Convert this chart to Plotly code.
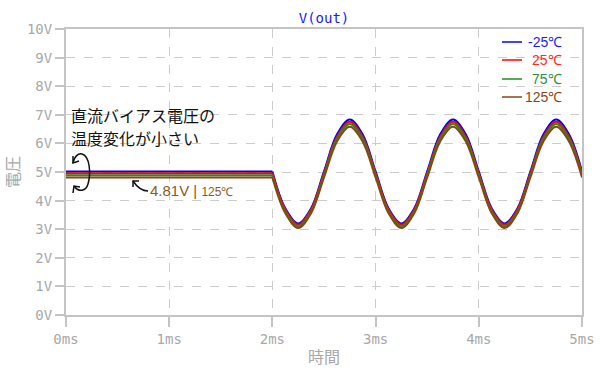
import plotly.graph_objects as go

# ---- data ----
temps = ["-25℃", "25℃", "75℃", "125℃"]
colors = ["#0000ff", "#ff0000", "#228b22", "#8b4513"]
text_colors = ["#1a1aff", "#ff2a1a", "#2e8b3e", "#8b4513"]

t_dc = [0.0, 2.0]  # ms
dc_m25 = [5.02, 5.02]
dc_25 = [4.96, 4.96]
dc_75 = [4.89, 4.89]
dc_125 = [4.81, 4.81]

t_ac = [2.0, 2.125, 2.25, 2.375, 2.5, 2.625, 2.75, 2.875,
        3.0, 3.125, 3.25, 3.375, 3.5, 3.625, 3.75, 3.875,
        4.0, 4.125, 4.25, 4.375, 4.5, 4.625, 4.75, 4.875, 5.0]
ac_m25 = [5.02, 3.73, 3.20, 3.73, 5.02, 6.31, 6.84, 6.31,
          5.02, 3.73, 3.20, 3.73, 5.02, 6.31, 6.84, 6.31,
          5.02, 3.73, 3.20, 3.73, 5.02, 6.31, 6.84, 6.31, 5.02]
ac_25 = [4.96, 3.69, 3.16, 3.69, 4.96, 6.23, 6.76, 6.23,
         4.96, 3.69, 3.16, 3.69, 4.96, 6.23, 6.76, 6.23,
         4.96, 3.69, 3.16, 3.69, 4.96, 6.23, 6.76, 6.23, 4.96]
ac_75 = [4.89, 3.62, 3.10, 3.62, 4.89, 6.16, 6.68, 6.16,
         4.89, 3.62, 3.10, 3.62, 4.89, 6.16, 6.68, 6.16,
         4.89, 3.62, 3.10, 3.62, 4.89, 6.16, 6.68, 6.16, 4.89]
ac_125 = [4.81, 3.56, 3.04, 3.56, 4.81, 6.06, 6.58, 6.06,
          4.81, 3.56, 3.04, 3.56, 4.81, 6.06, 6.58, 6.06,
          4.81, 3.56, 3.04, 3.56, 4.81, 6.06, 6.58, 6.06, 4.81]

dc_series = [dc_m25, dc_25, dc_75, dc_125]
ac_series = [ac_m25, ac_25, ac_75, ac_125]

y_ticks = list(range(0, 11))
x_ticks = [0, 1, 2, 3, 4, 5]

GRAY = "#a8a8a8"
AXIS = "#c4c4c4"
MONO = "DejaVu Sans Mono"
JP = "Noto Sans CJK JP"
SANS = "Liberation Sans"

fig = go.Figure()
for i in range(4):
    fig.add_trace(go.Scatter(
        x=t_dc, y=dc_series[i], mode="lines",
        line=dict(color=colors[i], width=2),
        legendgroup=temps[i], showlegend=False, hoverinfo="skip"))
    fig.add_trace(go.Scatter(
        x=t_ac, y=ac_series[i], mode="lines", name=temps[i],
        line=dict(color=colors[i], width=2, shape="spline"),
        legendgroup=temps[i], showlegend=False))

fig.update_layout(
    width=600, height=386,
    margin=dict(l=66, r=18, t=29, b=71, autoexpand=False),
    paper_bgcolor="white", plot_bgcolor="white",
    title=dict(text="V(out)", x=324 / 600, xanchor="center",
               y=1 - 18 / 386, yanchor="middle",
               font=dict(family=MONO, size=14, color="#1a1aff")),
    showlegend=False,
)

fig.update_xaxes(
    range=[0, 5], tickvals=x_ticks, ticktext=[f"{v}ms" for v in x_ticks],
    showgrid=True, gridcolor="#cccccc", griddash="dash", gridwidth=1,
    showline=True, linecolor=AXIS, linewidth=2, mirror=True,
    ticks="outside", ticklen=10, tickcolor=AXIS, tickwidth=2,
    tickfont=dict(family=MONO, size=14, color=GRAY),
    title=dict(text="時間", font=dict(family=JP, size=16, color=GRAY), standoff=6),
    zeroline=False, automargin=False,
)
fig.update_yaxes(
    range=[0, 10], tickvals=y_ticks, ticktext=[f"{v}V" for v in y_ticks],
    showgrid=True, gridcolor="#cccccc", griddash="dash", gridwidth=1,
    showline=True, linecolor=AXIS, linewidth=2, mirror=True,
    ticks="outside", ticklen=9, tickcolor=AXIS, tickwidth=2,
    tickfont=dict(family=MONO, size=14, color=GRAY),
    title=dict(text="電圧", font=dict(family=JP, size=16, color=GRAY), standoff=4),
    zeroline=False, automargin=False,
)

# legend (top-right, inside the plot area), anchored to the top-right corner
legend_rows = [-13, -31, -50, -68]  # pixel offsets from plot top
for i in range(4):
    fig.add_shape(type="line", xref="x", yref="y",
                  xsizemode="pixel", ysizemode="pixel", xanchor=5, yanchor=10,
                  x0=-80, x1=-60, y0=legend_rows[i], y1=legend_rows[i],
                  line=dict(color=colors[i], width=1.5))
    fig.add_annotation(x=5, y=10, xref="x", yref="y", xanchor="right",
                       yanchor="middle", showarrow=False,
                       xshift=-18, yshift=legend_rows[i],
                       text=temps[i],
                       font=dict(family=SANS, size=14, color=text_colors[i]))

# annotation text (two lines, anchored at 0ms with pixel offsets)
jp_lines = ["直流バイアス電圧の", "温度変化が小さい"]
jp_shift = [57, 34]  # pixels above the 5V level
for line, dy in zip(jp_lines, jp_shift):
    fig.add_annotation(
        x=0.0, y=5, xref="x", yref="y",
        xanchor="left", yanchor="middle", align="left", showarrow=False,
        xshift=3, yshift=dy, text=line,
        font=dict(family=JP, size=16, color="#111111"),
    )
fig.add_annotation(
    x=0.0, y=4.81, xref="x", yref="y", xanchor="left", yanchor="middle",
    showarrow=False, xshift=82, yshift=-13,
    text="4.81V | <span style='font-size:12px'>125℃</span>",
    font=dict(family=SANS, size=15, color="#8b5a1a"),
)

# curved arrows (pixel offsets anchored at 0ms / 5V)
arc = "M 7,9 C 8,15 12,19 16,18 C 24,16 25,-2 22,-12 C 20,-19 13,-21 8,-14"
head_top = "M 7,16 L 7,9 L 13,11"
head_bot = "M 7,-21 L 8,-14 L 14,-15"
small = "M 82,-19 C 76,-19 71,-15 67,-9"
small_head = "M 67,-15 L 67,-9 L 73,-9"
for p in [arc, head_top, head_bot, small, small_head]:
    fig.add_shape(type="path", xref="x", yref="y",
                  xsizemode="pixel", ysizemode="pixel", xanchor=0, yanchor=5,
                  path=p, line=dict(color="#111111", width=1.5))

fig.write_html("out.html")
